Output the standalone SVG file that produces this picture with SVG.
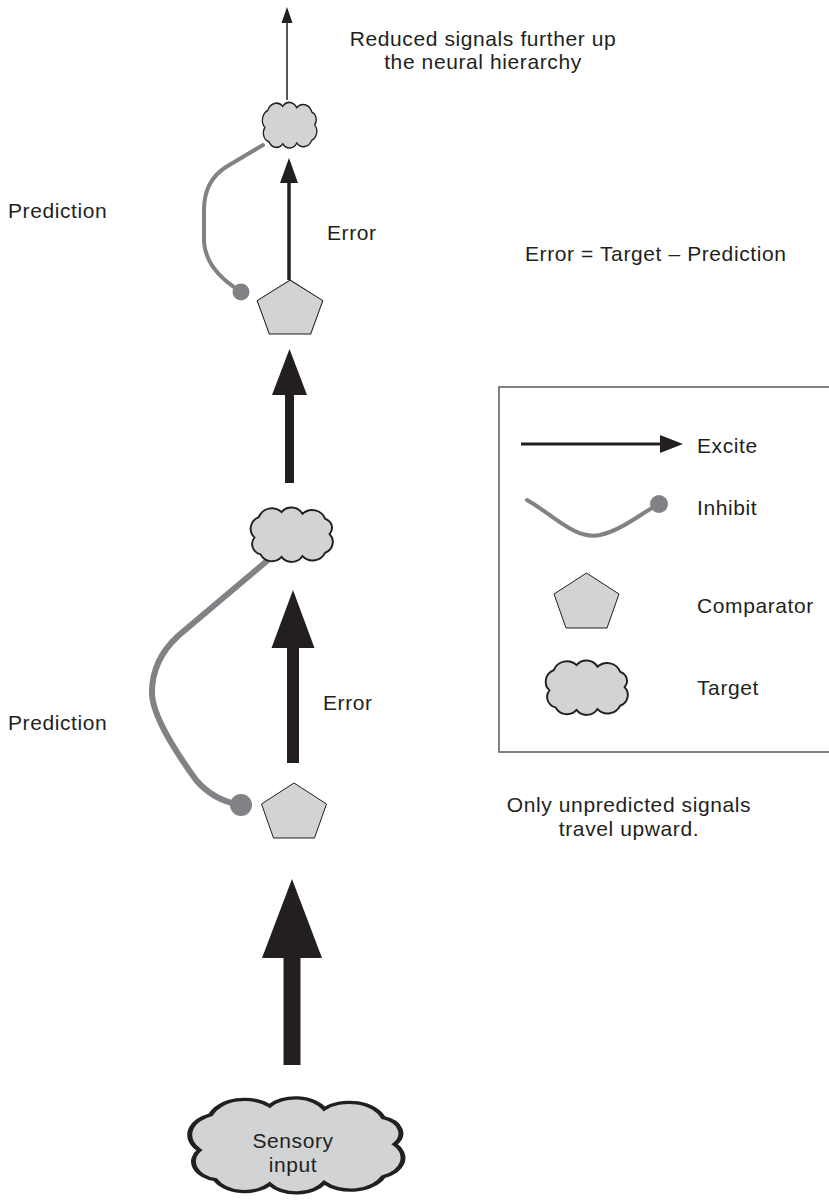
<svg xmlns="http://www.w3.org/2000/svg" width="829" height="1200" viewBox="0 0 829 1200">
<defs>
<style>
.t{font-family:"Liberation Sans",Arial,sans-serif;font-size:21px;letter-spacing:0.6px;fill:#231f20}
.cloud{fill:#d1d3d4;stroke:#231f20;stroke-width:2.2;vector-effect:non-scaling-stroke}
.pent{fill:#d1d3d4;stroke:#231f20;stroke-width:1}
.exc{fill:#231f20;stroke:none}
.inh{fill:none;stroke:#808285;stroke-linecap:round}
.dot{fill:#808285}
</style>
<path id="cloudShape" d="M7 38 A14.7 14.7 0 0 1 12 14 A16 16 0 0 1 38 8 A14.5 14.5 0 0 1 62 10 A16 16 0 0 1 88 16 A11.2 11.2 0 0 1 93 34 A13.6 13.6 0 0 1 88 56 A15.8 15.8 0 0 1 62 60 A14.4 14.4 0 0 1 38 61 A14.5 14.5 0 0 1 14 58 A12.7 12.7 0 0 1 7 38 Z"/>
<polygon id="pentShape" points="0,0 32.5,21 20.5,55 -20.5,55 -32.5,21"/>
</defs>
<rect width="829" height="1200" fill="#ffffff"/>

<g id="connectors">
  <!-- top thin arrow -->
  <line x1="287" y1="100" x2="287" y2="20" stroke="#231f20" stroke-width="1.5"/>
  <polygon class="exc" points="287,7 281.5,23 292.5,23"/>
  <!-- top error arrow -->
  <line x1="289" y1="280" x2="289" y2="180" stroke="#231f20" stroke-width="3.5"/>
  <polygon class="exc" points="289,158 280,183 298,183"/>
  <!-- arrow between top pentagon and middle cloud -->
  <rect class="exc" x="285" y="393" width="9" height="90"/>
  <polygon class="exc" points="289.5,349 272,395 307,395"/>
  <!-- middle error arrow -->
  <rect class="exc" x="287" y="646" width="12" height="117"/>
  <polygon class="exc" points="293,590 271.5,648 314.5,648"/>
  <!-- bottom arrow from sensory input -->
  <rect class="exc" x="283.5" y="956" width="17" height="109"/>
  <polygon class="exc" points="292,879 262,958 322,958"/>
  <!-- top prediction (inhibit) -->
  <path class="inh" stroke-width="4" d="M263 145 L226 167 Q204 181 204 210 L204 242 Q206 270 240 291"/>
  <circle class="dot" cx="241" cy="292" r="8.5"/>
  <!-- middle prediction (inhibit) -->
  <path class="inh" stroke-width="6" d="M268 560 L178 636 Q151 661 152 695 Q154 722 196 780 Q213 800 240 805"/>
  <circle class="dot" cx="241" cy="805" r="11"/>
</g>

<g id="node-top-target">
  <use href="#cloudShape" class="cloud" transform="translate(260.8,100.6) scale(0.579,0.708)"/>
</g>
<g id="node-top-comparator">
  <use href="#pentShape" class="pent" transform="translate(290,280) scale(1.01,0.98)"/>
</g>
<g id="node-middle-target">
  <use href="#cloudShape" class="cloud" transform="translate(248.3,505.3) scale(0.874,0.846)"/>
</g>
<g id="node-bottom-comparator">
  <use href="#pentShape" class="pent" transform="translate(294,783)"/>
</g>
<g id="node-sensory-input">
  <use href="#cloudShape" class="cloud" transform="translate(183.5,1094) scale(2.27,1.477)"/>
  <text class="t" x="293" y="1148" text-anchor="middle">Sensory</text>
  <text class="t" x="293" y="1172" text-anchor="middle">input</text>
</g>

<g id="labels">
  <text class="t" x="483" y="46" text-anchor="middle">Reduced signals further up</text>
  <text class="t" x="483" y="69" text-anchor="middle">the neural hierarchy</text>
  <text class="t" x="8" y="218">Prediction</text>
  <text class="t" x="327" y="240">Error</text>
  <text class="t" x="525" y="261">Error = Target – Prediction</text>
  <text class="t" x="8" y="730">Prediction</text>
  <text class="t" x="323" y="710">Error</text>
  <text class="t" x="629" y="812" text-anchor="middle">Only unpredicted signals</text>
  <text class="t" x="629" y="836" text-anchor="middle">travel upward.</text>
</g>

<g id="legend">
  <rect x="499" y="387" width="340" height="365" fill="none" stroke="#58595b" stroke-width="1.5"/>
  <g id="legend-excite">
    <line x1="521" y1="444" x2="664" y2="444" stroke="#231f20" stroke-width="3"/>
    <polygon class="exc" points="683,444 660,435 660,453"/>
    <text class="t" x="697" y="453">Excite</text>
  </g>
  <g id="legend-inhibit">
    <path class="inh" stroke-width="4" d="M527 500 C555 516 575 540 600 535 C622 530 640 514 659 504"/>
    <circle class="dot" cx="659" cy="504" r="9"/>
    <text class="t" x="697" y="515">Inhibit</text>
  </g>
  <g id="legend-comparator">
    <use href="#pentShape" class="pent" transform="translate(586.5,573)"/>
    <text class="t" x="697" y="613">Comparator</text>
  </g>
  <g id="legend-target">
    <use href="#cloudShape" class="cloud" transform="translate(543.3,658.3) scale(0.874,0.846)"/>
    <text class="t" x="697" y="695">Target</text>
  </g>
</g>
</svg>
